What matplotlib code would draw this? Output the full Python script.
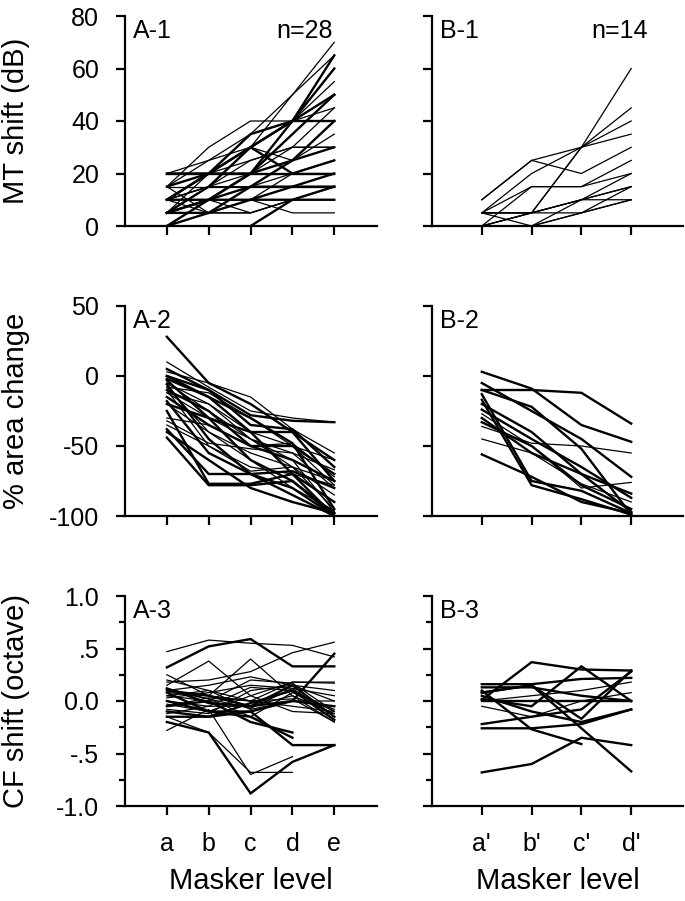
import numpy as np
import matplotlib.pyplot as plt

plt.rcParams['font.family'] = ['Liberation Sans', 'DejaVu Sans']

nan = np.nan

# Masker levels
levels_a = ['a', 'b', 'c', 'd', 'e']
levels_b = ["a'", "b'", "c'", "d'"]

# A-1: MT shift (dB), one row per neuron (n=28), columns a..e
mt_shift_a = [
    [15, 25, 30, 50, 70],
    [20, 20, 35, 50, 65],
    [10, 20, 35, 40, 65],
    [5, 15, 30, 40, 60],
    [15, 30, 40, 40, 55],
    [10, 20, 30, 40, 50],
    [5, 10, 20, 35, 50],
    [20, 25, 35, 40, 45],
    [10, 15, 25, 30, 45],
    [20, 20, 20, 40, 40],
    [5, 10, 15, 25, 40],
    [10, 15, 30, 25, 35],
    [5, 15, 20, 30, 30],
    [15, 20, 30, 20, 25],
    [20, 20, 20, 20, 20],
    [10, 15, 15, 20, 20],
    [5, 5, 15, 15, 20],
    [15, 15, 15, 15, 15],
    [10, 10, 10, 15, 15],
    [5, 10, 5, 10, 15],
    [0, 5, 10, 10, 10],
    [5, 5, 5, 10, 10],
    [10, 10, 10, 5, 5],
    [nan, nan, 0, 10, 15],
    [0, 10, 20, 25, 30],
    [5, 20, 25, 30, 30],
    [15, 5, 10, 20, 25],
    [10, 5, 5, 10, 15],
]
# B-1: MT shift (dB), n=14, columns a'..d'
mt_shift_b = [
    [0, 5, 30, 60],
    [10, 25, 20, 30],
    [5, 20, 30, 40],
    [10, 25, 30, 35],
    [5, 5, 30, 45],
    [0, 15, 15, 25],
    [5, 5, 10, 20],
    [0, 5, 10, 15],
    [0, 0, 10, 15],
    [5, 0, 5, 10],
    [5, 5, 5, 10],
    [0, 5, 10, 10],
    [0, 0, 5, 15],
    [5, 15, 15, 20],
]

# A-2: % area change
area_a = [
    [28, -5, -20, -40, -60],
    [10, -8, -25, -30, -33],
    [5, -10, -28, -32, -33],
    [3, -5, -15, -38, -55],
    [0, -10, -35, -38, -65],
    [-2, -15, -40, -40, -75],
    [-5, -20, -40, -50, -60],
    [-8, -12, -30, -50, -78],
    [-10, -25, -50, -50, -70],
    [-12, -30, -45, -55, -80],
    [-15, -35, -50, -60, -75],
    [-20, -40, -55, -65, -95],
    [-3, -30, -60, -75, -98],
    [-6, -45, -70, -85, -100],
    [-10, -50, -65, -70, -78],
    [-18, -55, -70, -80, -100],
    [-25, -77, -77, -70, -90],
    [-30, -35, -50, -48, -72],
    [-32, -48, -52, -55, -67],
    [-35, -50, -68, -65, -75],
    [-38, -70, -70, -68, -80],
    [-40, -60, -80, -90, -98],
    [-44, -78, -78, -75, -100],
    [-12, -20, -45, -60, -97],
    [-5, -25, -45, -65, -85],
    [0, -15, -30, -48, -95],
    [-8, -40, -60, -80, -96],
    [-20, -30, -40, -70, -100],
]
# B-2: % area change
area_b = [
    [3, -9, -35, -47],
    [-10, -10, -12, -34],
    [-10, -22, -52, -99],
    [-5, -25, -45, -72],
    [-13, -75, -82, -98],
    [-17, -78, -88, -99],
    [-36, -48, -50, -55],
    [-24, -45, -65, -87],
    [-27, -50, -80, -76],
    [-30, -55, -70, -84],
    [-33, -50, -78, -95],
    [-45, -55, -77, -90],
    [-56, -72, -90, -98],
    [-20, -40, -70, -97],
]

# A-3: CF shift (octave)
cf_shift_a = [
    [0.47, 0.58, 0.55, 0.53, 0.42],
    [0.32, 0.52, 0.59, 0.33, 0.33],
    [0.18, 0.20, 0.28, 0.46, 0.56],
    [0.15, 0.38, 0.05, 0.18, 0.17],
    [0.25, 0.05, 0.40, 0.05, -0.20],
    [0.10, 0.15, 0.23, 0.15, 0.10],
    [0.10, 0.05, -0.05, 0.00, 0.45],
    [0.05, 0.00, 0.20, 0.17, -0.10],
    [0.12, 0.02, -0.07, 0.12, -0.15],
    [0.00, -0.05, 0.13, 0.10, -0.10],
    [-0.05, 0.00, -0.20, -0.30, nan],
    [0.08, -0.10, -0.15, -0.35, nan],
    [-0.20, -0.30, -0.88, -0.58, -0.42],
    [-0.28, -0.08, -0.70, -0.53, nan],
    [-0.15, -0.30, -0.68, -0.68, nan],
    [-0.10, -0.15, -0.10, -0.42, -0.42],
    [-0.12, -0.05, -0.05, 0.05, -0.12],
    [0.00, -0.10, -0.10, 0.00, -0.05],
    [0.05, 0.10, 0.00, -0.05, -0.10],
    [-0.08, -0.12, 0.10, 0.15, 0.00],
    [0.12, -0.02, -0.05, 0.15, -0.15],
    [0.03, 0.08, 0.15, 0.12, 0.05],
    [-0.15, -0.15, -0.02, 0.10, -0.18],
    [0.08, 0.05, 0.00, 0.18, 0.18],
    [-0.03, -0.10, 0.05, -0.10, -0.12],
    [0.10, 0.02, -0.15, 0.08, -0.08],
    [0.20, 0.10, -0.08, 0.00, 0.00],
    [-0.05, 0.03, 0.00, 0.02, -0.20],
]
# B-3: CF shift (octave)
cf_shift_b = [
    [0.16, 0.16, 0.21, 0.22],
    [0.01, 0.37, 0.30, 0.29],
    [0.08, 0.15, -0.17, 0.29],
    [0.02, -0.05, 0.33, 0.00],
    [0.08, 0.15, -0.26, -0.67],
    [-0.22, -0.15, -0.08, 0.28],
    [-0.26, -0.26, -0.22, -0.08],
    [-0.68, -0.60, -0.35, -0.42],
    [0.10, -0.27, -0.41, nan],
    [0.00, 0.00, 0.00, 0.00],
    [0.13, 0.13, 0.05, 0.00],
    [-0.05, -0.15, 0.00, 0.08],
    [0.05, -0.10, -0.20, -0.08],
    [0.00, 0.05, 0.10, 0.18],
]

# which traces are drawn heavier
thick_a1 = {2, 3, 5, 6, 9, 10, 13, 14, 16, 18, 20, 23, 24}
thick_b1 = set()
thick_a2 = {0, 2, 4, 5, 8, 10, 12, 13, 15, 16, 20, 21, 22, 25, 27}
thick_b2 = {0, 1, 2, 3, 4, 5, 7, 9, 10, 12, 13}
thick_a3 = {1, 6, 10, 11, 12, 15, 17, 20, 22}
thick_b3 = {0, 1, 2, 3, 4, 5, 6, 7, 8, 9, 10, 12}

fig = plt.figure(figsize=(6.85, 9.01), dpi=100)

W, H = 685, 901
rows_px = [(16, 226), (306, 516), (596, 806)]
cols_px = [(125, 377), (432, 683)]

panels = [
    (mt_shift_a, thick_a1, 'A-1', 'n=28'),
    (mt_shift_b, thick_b1, 'B-1', 'n=14'),
    (area_a, thick_a2, 'A-2', None),
    (area_b, thick_b2, 'B-2', None),
    (cf_shift_a, thick_a3, 'A-3', None),
    (cf_shift_b, thick_b3, 'B-3', None),
]
ylims = [(0, 80), (-100, 50), (-1, 1)]
yticks = [[0, 20, 40, 60, 80], [-100, -50, 0, 50], [-1, -0.5, 0, 0.5, 1]]
yticklabels = [['0', '20', '40', '60', '80'],
               ['-100', '-50', '0', '50'],
               ['-1.0', '-.5', '0.0', '.5', '1.0']]
ylabels = ['MT shift (dB)', '% area change', 'CF shift (octave)']
nx_right = [1.02, 1.04]

for k, (data, thick, tag, ntxt) in enumerate(panels):
    r, c = divmod(k, 2)
    top, bot = rows_px[r]
    left, right = cols_px[c]
    ax = fig.add_axes([left / W, 1 - bot / H, (right - left) / W, (bot - top) / H])
    levels = levels_a if c == 0 else levels_b
    x = np.arange(len(levels))
    for i, row in enumerate(data):
        ax.plot(x, row, color='black', lw=1.7 if i in thick else 0.9,
                clip_on=False, solid_joinstyle='miter')

    ax.set_xlim(-1, len(levels) - 1 + nx_right[c])
    ax.set_ylim(*ylims[r])
    ax.spines[['top', 'right']].set_visible(False)
    for s in ['left', 'bottom']:
        ax.spines[s].set_linewidth(1.6)
    ax.set_xticks(x)
    ax.set_yticks(yticks[r])
    ax.tick_params(width=1.6, length=6.5, pad=12, labelsize=18)
    if r == 2:
        ax.set_yticks([-0.75, -0.25, 0.25, 0.75], minor=True)
        ax.tick_params(which='minor', width=1.6, length=4)
        ax.set_xticklabels(levels)
        ax.set_xlabel('Masker level', fontsize=21, labelpad=8)
    else:
        ax.set_xticklabels([])
    if c == 0:
        ax.set_yticklabels(yticklabels[r])
        ax.set_ylabel(ylabels[r], fontsize=21)
        ax.yaxis.set_label_coords(-0.375, 0.5)
    else:
        ax.set_yticklabels([])

    ax.text(0.03, 0.985, tag, transform=ax.transAxes, ha='left', va='top', fontsize=18)
    if ntxt:
        xr = 0.825 if c == 0 else 0.86
        ax.text(xr, 0.985, ntxt, transform=ax.transAxes, ha='right', va='top', fontsize=18)

fig.savefig('out.png', dpi=100)
